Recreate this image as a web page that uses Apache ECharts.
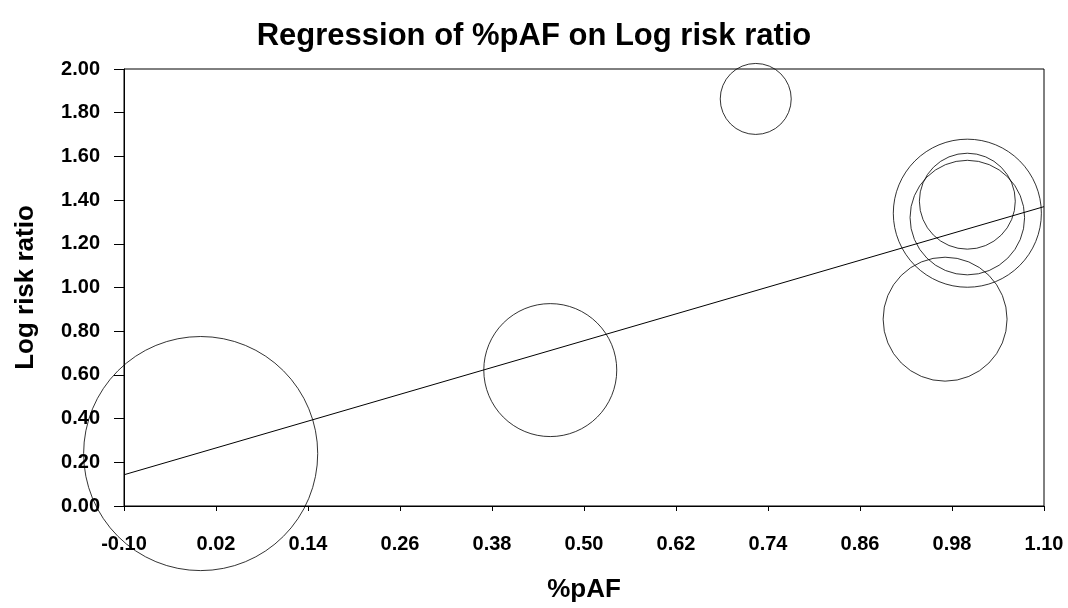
<!DOCTYPE html>
<html>
<head>
<meta charset="utf-8">
<style>
  html, body { margin: 0; padding: 0; background: #ffffff; }
  #chart { width: 1068px; height: 608px; }
</style>
<script src="https://cdn.jsdelivr.net/npm/echarts@6/dist/echarts.min.js"></script>
</head>
<body>
<div id="chart"></div>
<script>
// Studies: proportion pAF (x), log risk ratio (y) and study weight (bubble area)
var studyPAF     = [0.00, 0.456, 0.724, 0.971, 1.000, 1.000, 1.000];
var studyLogRR   = [0.24, 0.622, 1.863, 0.855, 1.340, 1.320, 1.395];
var studyWeight  = [137, 44.2, 12.6, 38.4, 54.8, 32.8, 23.0];

// Fitted regression line, evaluated at the ends of the x range
var fitX = [-0.10, 1.10];
var fitY = [0.143, 1.370];

var FONT = '"Liberation Sans", Arial, Helvetica, sans-serif';

var bubbles = studyPAF.map(function (x, i) {
  return [x, studyLogRR[i], studyWeight[i]];
});
var fitLine = fitX.map(function (x, i) { return [x, fitY[i]]; });

var chart = echarts.init(document.getElementById('chart'), null, { renderer: 'canvas' });

chart.setOption({
  animation: false,
  backgroundColor: '#ffffff',
  title: {
    text: 'Regression of %pAF on Log risk ratio',
    left: 'center',
    top: 16,
    textStyle: { fontFamily: FONT, fontWeight: 'bold', fontSize: 31, color: '#000' }
  },
  grid: {
    left: 124, right: 24, top: 69, bottom: 97,
    show: true,
    borderColor: '#000',
    borderWidth: 1,
    backgroundColor: 'transparent'
  },
  xAxis: {
    type: 'value',
    min: -0.10,
    max: 1.10,
    interval: 0.12,
    name: '%pAF',
    nameLocation: 'middle',
    nameGap: 71,
    nameTextStyle: { fontFamily: FONT, fontWeight: 'bold', fontSize: 26, color: '#000' },
    axisLine: { show: true, onZero: false, lineStyle: { color: '#000', width: 1 } },
    axisTick: { show: true, length: 5, lineStyle: { color: '#000' } },
    splitLine: { show: false },
    axisLabel: {
      margin: 28,
      fontFamily: FONT, fontWeight: 'bold', fontSize: 20, color: '#000',
      formatter: function (v) { return v.toFixed(2); }
    }
  },
  yAxis: {
    type: 'value',
    min: 0,
    max: 2,
    interval: 0.2,
    name: 'Log risk ratio',
    nameLocation: 'middle',
    nameGap: 85,
    nameTextStyle: { fontFamily: FONT, fontWeight: 'bold', fontSize: 26, color: '#000' },
    axisLine: { show: true, onZero: false, lineStyle: { color: '#000', width: 1 } },
    axisTick: { show: true, length: 10, lineStyle: { color: '#000' } },
    splitLine: { show: false },
    axisLabel: {
      margin: 24,
      fontFamily: FONT, fontWeight: 'bold', fontSize: 20, color: '#000',
      formatter: function (v) { return v.toFixed(2); }
    }
  },
  series: [
    {
      type: 'scatter',
      data: bubbles,
      clip: false,
      symbol: 'circle',
      symbolSize: function (d) { return 20 * Math.sqrt(d[2]); },
      itemStyle: { color: 'rgba(0,0,0,0)', borderColor: '#000', borderWidth: 1 },
      emphasis: { disabled: true },
      z: 3
    },
    {
      type: 'line',
      data: fitLine,
      showSymbol: false,
      symbol: 'none',
      lineStyle: { color: '#000', width: 1 },
      emphasis: { disabled: true },
      z: 4
    }
  ]
});
</script>
</body>
</html>
